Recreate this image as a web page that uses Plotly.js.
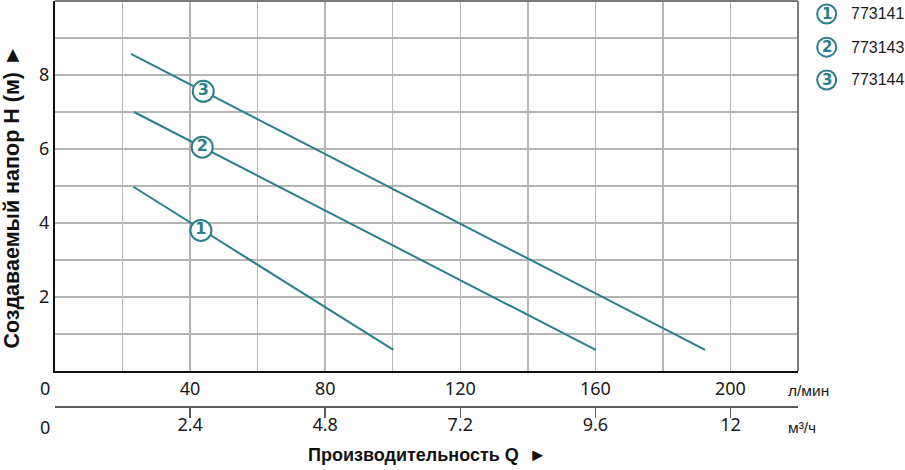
<!DOCTYPE html>
<html>
<head>
<meta charset="utf-8">
<script src="https://cdn.plot.ly/plotly-3.0.1.min.js"></script>
<style>html,body{margin:0;padding:0;background:#fff;}#chart{width:905px;height:470px;}</style>
</head>
<body>
<div id="chart"></div>
<script>
// ---- data ----
const seriesNames = ['773141', '773143', '773144'];
const seriesNums = ['1', '2', '3'];
const flow1 = [23.2, 100.2];
const head1 = [4.98, 0.57];
const flow2 = [23.4, 160.1];
const head2 = [7.0, 0.57];
const flow3 = [22.5, 192.5];
const head3 = [8.57, 0.57];
const labelFlow = [43.2, 43.6, 43.9];
const labelHead = [3.8, 6.05, 7.56];
const xTickVals = [0, 20, 40, 60, 80, 100, 120, 140, 160, 180, 200, 220];
const xTickText = ['', '', '40', '', '80', '', '120', '', '160', '', '200', ''];
const x2TickVals = [2.4, 4.8, 7.2, 9.6, 12];
const x2TickText = ['2.4', '4.8', '7.2', '9.6', '12'];
const yTickVals = [0, 1, 2, 3, 4, 5, 6, 7, 8, 9, 10];
const yTickText = ['', '', '2', '', '4', '', '6', '', '8', '', ''];

const teal = '#2b7f8a';
const tickFont = {family: 'Noto Sans, sans-serif', size: 18, color: '#1a1a1a'};

const flows = [flow1, flow2, flow3];
const heads = [head1, head2, head3];
const traces = flows.map((f, i) => ({
  x: f, y: heads[i], type: 'scatter', mode: 'lines',
  line: {color: teal, width: 2}, xaxis: 'x', yaxis: 'y',
  name: seriesNames[i], showlegend: false, hoverinfo: 'skip'
}));
traces.push({
  x: labelFlow, y: labelHead, type: 'scatter', mode: 'markers+text',
  text: seriesNums.map(n => '<b>' + n + '</b>'), textposition: 'middle center',
  textfont: {family: 'DejaVu Sans, sans-serif', size: 16, color: teal},
  marker: {size: 21, color: '#ffffff', line: {color: teal, width: 2}},
  xaxis: 'x', yaxis: 'y', showlegend: false, cliponaxis: false, hoverinfo: 'skip'
});
// invisible trace to activate the second axis
traces.push({x: [0, 13.2], y: [0, 0], type: 'scatter', mode: 'none', xaxis: 'x2', yaxis: 'y2', showlegend: false, hoverinfo: 'skip'});

const shapes = [
  {type: 'line', xref: 'x domain', yref: 'y domain', x0: 0, x1: 1, y0: 1, y1: 1, line: {color: '#7a7a7a', width: 2}},
  {type: 'line', xref: 'x domain', yref: 'y domain', x0: 1, x1: 1, y0: 0, y1: 1, line: {color: '#7a7a7a', width: 2}}
];
const annotations = [];
const legY = [0.968, 0.886, 0.805];
seriesNames.forEach((n, i) => {
  shapes.push({type: 'circle', xref: 'paper', yref: 'paper', xsizemode: 'pixel', ysizemode: 'pixel',
    xanchor: 1.0386, yanchor: legY[i], x0: -9.5, x1: 9.5, y0: -9.5, y1: 9.5,
    line: {color: teal, width: 2}, fillcolor: '#fff'});
  annotations.push({xref: 'paper', yref: 'paper', x: 1.0386, y: legY[i], text: '<b>' + seriesNums[i] + '</b>',
    showarrow: false, xanchor: 'center', yanchor: 'middle',
    font: {family: 'DejaVu Sans, sans-serif', size: 15, color: teal}});
  annotations.push({xref: 'paper', yref: 'paper', x: 1.0686, y: legY[i], text: n,
    showarrow: false, xanchor: 'left', yanchor: 'middle',
    font: {family: 'Liberation Sans, Arial, sans-serif', size: 16, color: '#1a1a1a'}});
});
annotations.push(
  {xref: 'paper', yref: 'paper', x: -0.0135, y: 0.044, text: '0', showarrow: false, xanchor: 'center', yanchor: 'middle', font: tickFont},
  {xref: 'paper', yref: 'paper', x: -0.0135, y: -0.052, text: '0', showarrow: false, xanchor: 'center', yanchor: 'middle', font: tickFont},
  {xref: 'paper', yref: 'paper', x: 0.984, y: 0.0395, text: 'л/мин', showarrow: false, xanchor: 'left', yanchor: 'middle',
    font: {family: 'Liberation Sans, Arial, sans-serif', size: 15.5, color: '#1a1a1a'}},
  {xref: 'paper', yref: 'paper', x: 0.984, y: -0.054, text: 'м³/ч', showarrow: false, xanchor: 'left', yanchor: 'middle',
    font: {family: 'Liberation Sans, Arial, sans-serif', size: 15.5, color: '#1a1a1a'}},
  {xref: 'paper', yref: 'paper', x: 0.5007, y: -0.121, text: '<b>Производительность Q  ►</b>', showarrow: false,
    xanchor: 'center', yanchor: 'middle', font: {family: 'Liberation Sans, Arial, sans-serif', size: 18, color: '#111'}},
  {xref: 'paper', yref: 'paper', x: -0.0579, y: 0.517, text: '<b>Создаваемый напор H (м) ►</b>', showarrow: false,
    textangle: -90, xanchor: 'center', yanchor: 'middle', font: {family: 'Liberation Sans, Arial, sans-serif', size: 21.5, color: '#111'}}
);

const layout = {
  width: 905, height: 470,
  margin: {l: 55, r: 107, t: 1, b: 64, pad: 0},
  paper_bgcolor: '#fff', plot_bgcolor: '#fff',
  showlegend: false,
  xaxis: {
    anchor: 'y', domain: [0, 1], range: [0, 220], tickmode: 'array', tickvals: xTickVals, ticktext: xTickText,
    showgrid: true, gridcolor: '#b5b5b5', gridwidth: 1.5, zeroline: false,
    showline: true, linecolor: '#111', linewidth: 2,
    ticks: '', tickfont: tickFont
  },
  yaxis: {
    domain: [0.0864, 1], range: [0, 10], tickmode: 'array', tickvals: yTickVals, ticktext: yTickText,
    showgrid: true, gridcolor: '#b5b5b5', gridwidth: 1.5, zeroline: false,
    showline: true, linecolor: '#111', linewidth: 2, ticks: '', tickfont: tickFont
  },
  xaxis2: {
    anchor: 'y2', domain: [0, 1], range: [0, 13.2], tickmode: 'array', tickvals: x2TickVals, ticktext: x2TickText,
    showgrid: false, zeroline: false, showline: true, linecolor: '#5a5a5a', linewidth: 1.5,
    ticks: 'outside', ticklen: 10, tickwidth: 1.5, tickcolor: '#5a5a5a', tickfont: tickFont,
    ticklabelstandoff: -8
  },
  yaxis2: {
    domain: [0, 0.002], range: [0, 1], showgrid: false, zeroline: false, showline: false,
    showticklabels: false, ticks: ''
  },
  shapes: shapes,
  annotations: annotations
};

Plotly.newPlot('chart', traces, layout, {displayModeBar: false, staticPlot: true});
</script>
</body>
</html>
